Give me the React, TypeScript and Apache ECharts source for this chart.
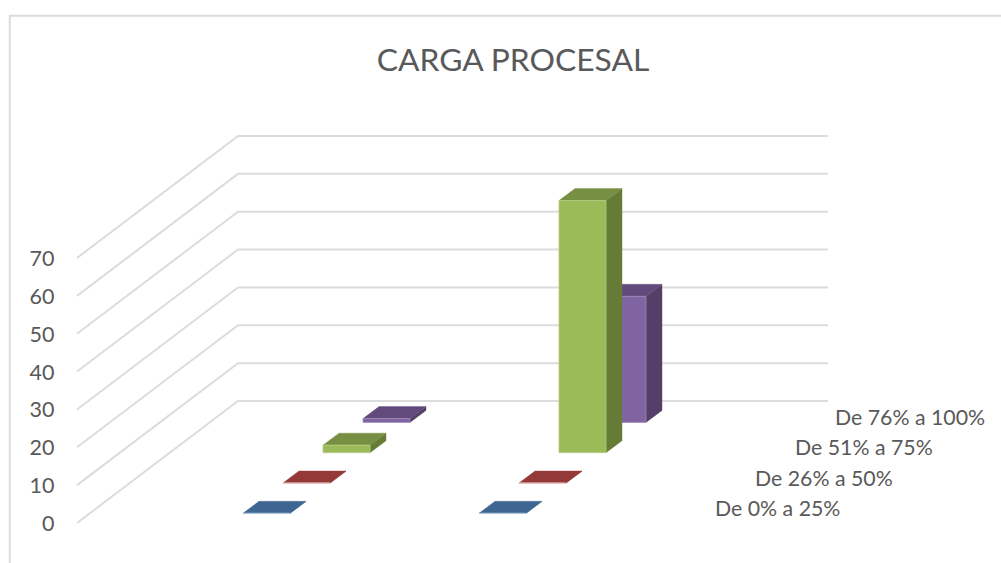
import React, { useEffect, useRef } from "react";
import * as echarts from "echarts";

const titleText = "CARGA PROCESAL";
const categories = ["Grupo 1", "Grupo 2"];
const depthLabels = ["De 0% a 25%", "De 26% a 50%", "De 51% a 75%", "De 76% a 100%"];
const serie0a25 = [0, 0];
const serie26a50 = [0, 0];
const serie51a75 = [2, 66.6];
const serie76a100 = [1, 33.3];
const ticks = [0, 10, 20, 30, 40, 50, 60, 70];

const seriesValues = [serie0a25, serie26a50, serie51a75, serie76a100];
const palette = [
  { front: "#4f81bd", top: "#3f6693", side: "#355a85", edge: "#a9c0dc" },
  { front: "#c0504d", top: "#933a38", side: "#7f3230", edge: "#e3b9b7" },
  { front: "#9bbb59", top: "#778f42", side: "#667b36", edge: "#b5cd85" },
  { front: "#8064a2", top: "#624b7c", side: "#533f68", edge: "#a18cbb" },
];

const FONT = "Lato";
const TEXT = "#595959";
const GRID = "#dcdcdc";

// layout of the 3D projection
const WALL_FRONT_X = 77;
const WALL_BACK_X = 238;
const WALL_RIGHT_X = 828;
const WALL_DY = -122;
const BAR_W = 47;
const BAR_DX = 16;
const BAR_DY = -12;
const SLOT_DX = 40;
const SLOT_DY = -30.3;
const FLOOR_OFFSET = -9.7;

function wallItem(_params: any, api: any) {
  const y = api.coord([0, api.value(1)])[1];
  return {
    type: "polyline",
    shape: {
      points: [
        [WALL_FRONT_X, y],
        [WALL_BACK_X, y + WALL_DY],
        [WALL_RIGHT_X, y + WALL_DY],
      ],
    },
    style: { fill: "none", stroke: GRID, lineWidth: 2 },
  };
}

function barItem(slot: number) {
  const c = palette[slot];
  return (_params: any, api: any) => {
    const cat = api.value(0);
    const base = api.coord([cat, 0]);
    const tip = api.coord([cat, api.value(1)]);
    const x0 = base[0] - BAR_W / 2 + SLOT_DX * slot;
    const x1 = x0 + BAR_W;
    const yb = base[1] + FLOOR_OFFSET + SLOT_DY * slot;
    const yt = tip[1] + FLOOR_OFFSET + SLOT_DY * slot;
    const poly = (points: number[][], fill: string, stroke?: string) => ({
      type: "polygon",
      shape: { points },
      style: { fill, stroke: stroke || fill, lineWidth: stroke ? 0.8 : 0.4 },
    });
    return {
      type: "group",
      children: [
        poly(
          [[x1, yb], [x1 + BAR_DX, yb + BAR_DY], [x1 + BAR_DX, yt + BAR_DY], [x1, yt]],
          c.side
        ),
        poly(
          [[x0, yt], [x1, yt], [x1 + BAR_DX, yt + BAR_DY], [x0 + BAR_DX, yt + BAR_DY]],
          c.top
        ),
        poly([[x0, yb], [x1, yb], [x1, yt], [x0, yt]], c.front, c.edge),
      ],
    };
  };
}

export default function App() {
  const ref = useRef<HTMLDivElement>(null);
  useEffect(() => {
    document.body.style.margin = "0";
    const chart = echarts.init(ref.current!, undefined, { renderer: "svg" });
    const barOrder = [3, 2, 1, 0];
    chart.setOption({
      animation: false,
      backgroundColor: "#ffffff",
      title: {
        text: titleText,
        left: 508,
        top: 38,
        textAlign: "center",
        textStyle: { fontFamily: FONT, fontSize: 31.8, fontWeight: "normal", color: TEXT },
      },
      grid: { left: 148.5, top: 258, width: 472, height: 265 },
      xAxis: {
        type: "category",
        data: categories,
        show: false,
      },
      yAxis: {
        type: "value",
        min: 0,
        max: 70,
        interval: 10,
        axisLine: { show: false },
        axisTick: { show: false },
        splitLine: { show: false },
        axisLabel: { margin: 94, fontFamily: FONT, fontSize: 21.5, color: TEXT },
      },
      graphic: [
        {
          type: "polyline",
          silent: true,
          shape: { points: [[9.8, 563], [9.8, 15.8], [1001, 15.8]] },
          style: { fill: "none", stroke: GRID, lineWidth: 2 },
        },
        ...depthLabels.map((text, i) => ({
          type: "text",
          x: 715 + SLOT_DX * i,
          y: 508 + SLOT_DY * i,
          silent: true,
          style: {
            text,
            fontFamily: FONT,
            fontSize: 21.3,
            fill: TEXT,
            textAlign: "left",
            textVerticalAlign: "middle",
          },
        })),
      ],
      series: [
        {
          type: "custom",
          name: "wall",
          silent: true,
          clip: false,
          renderItem: wallItem,
          encode: { x: 0, y: 1 },
          data: ticks.map((t) => [0, t]),
        },
        ...barOrder.map((slot) => ({
          type: "custom",
          name: depthLabels[slot],
          silent: true,
          clip: false,
          renderItem: barItem(slot),
          encode: { x: 0, y: 1 },
          data: seriesValues[slot].map((v, i) => [i, v]),
        })),
      ],
    });
    return () => chart.dispose();
  }, []);
  return <div ref={ref} style={{ width: 1001, height: 563 }} />;
}
